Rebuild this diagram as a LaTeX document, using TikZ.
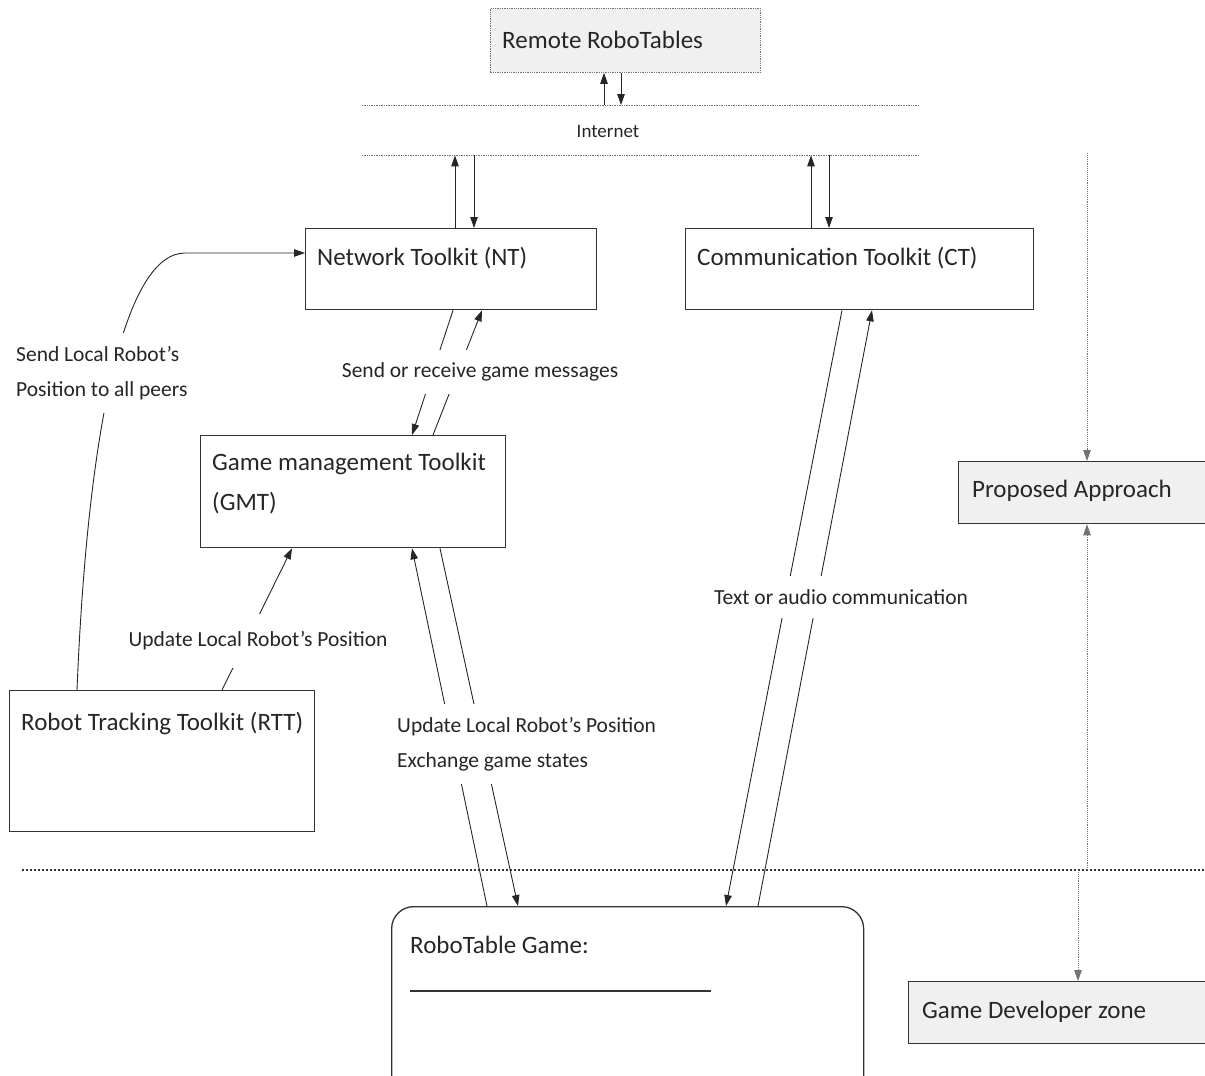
\documentclass[tikz,border=0pt]{standalone}
\usepackage{fontspec}
\setmainfont{Carlito}
\usetikzlibrary{arrows.meta,positioning,calc}

\begin{document}
\begin{tikzpicture}[x=1pt,y=-1pt,
  every node/.style={font=\fontsize{25}{40}\selectfont, inner sep=0pt, text=black!85},
  box/.style={draw=black!80, line width=1.3pt, anchor=north west},
  greybox/.style={box, fill=black!6},
  boxtext/.style={anchor=west, align=left},
  lbl/.style={font=\fontsize{21.5}{35}\selectfont, fill=white, inner xsep=4pt, inner ysep=13pt, align=left},
  arr/.style={-{Triangle[length=11pt,width=7.5pt]}, line width=0.9pt, draw=black!85},
  dots/.style={densely dotted, line width=0.7pt, draw=black!55},
  zoneline/.style={line width=2.4pt, dash pattern=on 2.4pt off 1.6pt, draw=black!80}]
\clip (0,0) rectangle (1205,1076);

% top: remote tables and the internet band
\node[greybox, draw=black!55, densely dotted, line width=0.8pt, minimum width=270, minimum height=64] (remote) at (490,8) {};
\node[boxtext] at ($(remote.north west)+(12,32)$) {Remote RoboTables};
\node[anchor=north west, minimum width=556, minimum height=50] (inet) at (362,105) {};
\node[font=\fontsize{19}{22}\selectfont] at (608,131) {Internet};
\draw[dots] (inet.north west) -- (inet.north east);
\draw[dots] (inet.south west) -- (inet.south east);

% toolkits
\node[box, minimum width=291, minimum height=81] (nt) at (305,228) {};
\node[boxtext] at ($(nt.north west)+(12,30)$) {Network Toolkit (NT)};
\node[box, minimum width=348, minimum height=81] (ct) at (685,228) {};
\node[boxtext] at ($(ct.north west)+(12,30)$) {Communication Toolkit (CT)};
\node[box, minimum width=305, minimum height=112] (gmt) at (200,435) {};
\node[boxtext] at ($(gmt.north west)+(12,49)$) {Game management Toolkit\\(GMT)};
\node[box, minimum width=305, minimum height=141] (rtt) at (9,690) {};
\node[boxtext] at ($(rtt.north west)+(12,33)$) {Robot Tracking Toolkit (RTT)};

% game developer side
\node[box, rounded corners=22, minimum width=472, minimum height=200] (game) at (391,906) {};
\node[boxtext] at ($(game.north west)+(19,39)$) {RoboTable Game:};
\draw[line width=1.3pt, black!80] ($(game.north west)+(19,85)$) -- ++(301,0);
\node[greybox, minimum width=300, minimum height=62] (pa) at (958,461) {};
\node[boxtext] at ($(pa.north west)+(14,30)$) {Proposed Approach};
\node[greybox, minimum width=350, minimum height=62] (gdz) at (908,981) {};
\node[boxtext] at ($(gdz.north west)+(14,31)$) {Game Developer zone};

\draw[zoneline] (22,870) -- (1205,870);
\coordinate (paTop) at (1087,153);
\coordinate (zoneA) at (1087,870);
\coordinate (zoneB) at (1078,870);

% connectors
\draw[arr] ([xshift=114]remote.south west |- inet.north) -- ([xshift=114]remote.south west);
\draw[arr] ([xshift=131]remote.south west) -- ([xshift=131]remote.south west |- inet.north);
\draw[arr] ([xshift=150]nt.north west) -- ([xshift=150]nt.north west |- inet.south);
\draw[arr] ([xshift=169]nt.north west |- inet.south) -- ([xshift=169]nt.north west);
\draw[arr] ([xshift=126]ct.north west) -- ([xshift=126]ct.north west |- inet.south);
\draw[arr] ([xshift=144]ct.north west |- inet.south) -- ([xshift=144]ct.north west);

\draw[arr] ([xshift=148]nt.south west) -- ([xshift=212]gmt.north west);
\draw[arr] ([xshift=233]gmt.north west) -- ([xshift=177]nt.south west);
\draw[arr] ([xshift=96]game.north west) -- ([xshift=212]gmt.south west);
\draw[arr] ([xshift=240]gmt.south west) -- ([xshift=127]game.north west);
\draw[arr] ([xshift=157]ct.south west) -- ([xshift=335]game.north west);
\draw[arr] ([xshift=367]game.north west) -- ([xshift=187]ct.south west);
\draw[arr] ([xshift=213]rtt.north west) -- ([xshift=92]gmt.south west);
\draw[arr] ([xshift=68]rtt.north west) .. controls (88,420) and (126,253) .. (185,253) -- ([yshift=-25]nt.north west);

\draw[dots, arr, draw=black!55] (paTop) -- (paTop |- pa.north);
\draw[dots, arr, draw=black!55] (zoneA) -- (zoneA |- pa.south);
\draw[dots, arr, draw=black!55] (zoneB) -- (zoneB |- gdz.north);

% labels on the connectors
\node[lbl] at (480,372) {Send or receive game messages};
\node[lbl, anchor=west] at (12,373) {Send Local Robot’s\\Position to all peers};
\node[lbl, inner ysep=18pt] at (258,641) {Update Local Robot’s Position};
\node[lbl, anchor=west] at (393,744) {Update Local Robot’s Position\\Exchange game states};
\node[lbl] at (841,597) {Text or audio communication};
\end{tikzpicture}
\end{document}
